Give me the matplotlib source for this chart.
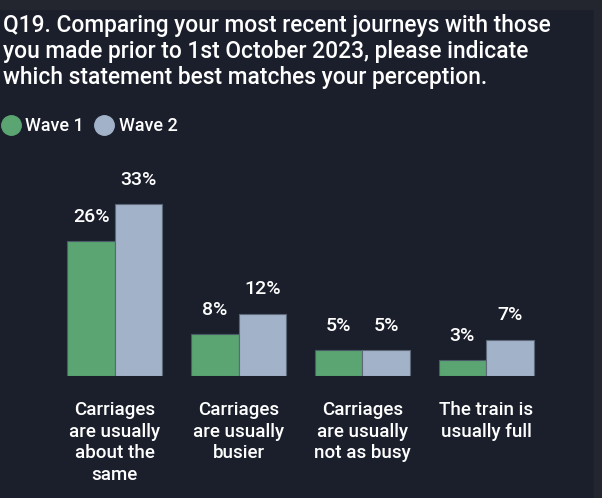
import numpy as np
import matplotlib.pyplot as plt
from matplotlib.lines import Line2D

categories = ['Carriages\nare usually\nabout the\nsame',
              'Carriages\nare usually\nbusier',
              'Carriages\nare usually\nnot as busy',
              'The train is\nusually full']
wave1 = [26, 8, 5, 3]
wave2 = [33, 12, 5, 7]
series_names = ['Wave 1', 'Wave 2']

bg = '#1b1f2c'
green = '#5aa572'
grey = '#a2b2c8'

plt.rcParams['font.family'] = ['Roboto', 'DejaVu Sans']

fig = plt.figure(figsize=(6.02, 4.98), dpi=100, facecolor=bg)
# lighter strips at the top and right edge
fig.patches.append(plt.Rectangle((0, 489/498), 1, 9/498, transform=fig.transFigure,
                                 color='#23262e', zorder=0))
fig.patches.append(plt.Rectangle((594/602, 0), 8/602, 1, transform=fig.transFigure,
                                 color='#23262e', zorder=0))

ax = fig.add_axes([53/602, 122/498, 495/602, 208/498])
ax.set_facecolor(bg)

x = np.arange(len(categories))
w = 0.384
b1 = ax.bar(x - w/2, wave1, w, color=green, edgecolor='#4a5a66', linewidth=0.8)
b2 = ax.bar(x + w/2, wave2, w, color=grey, edgecolor='#5c6878', linewidth=0.8)

for bars, vals in ((b1, wave1), (b2, wave2)):
    for r, v in zip(bars, vals):
        ax.annotate(f'{v}%', (r.get_x() + r.get_width()/2, v), xytext=(0, 11),
                    textcoords='offset points', ha='center', va='bottom',
                    color='white', fontsize=14, fontweight='medium')

ax.set_xlim(-0.5, 3.5)
ax.set_ylim(0, 40)
ax.set_xticks(x)
ax.set_xticklabels(categories, color='white', fontsize=13.5, fontweight='medium',
                   linespacing=1.26, va='top')
ax.tick_params(axis='x', length=0, pad=18)
ax.set_yticks([])
for s in ax.spines.values():
    s.set_visible(False)

fig.text(3/602, 1 - 14/498,
         'Q19. Comparing your most recent journeys with those\n'
         'you made prior to 1st October 2023, please indicate\n'
         'which statement best matches your perception.',
         color='white', fontsize=16.4, fontweight='medium', va='top',
         linespacing=1.17)

handles = [Line2D([], [], marker='o', linestyle='', markersize=14, color=green),
           Line2D([], [], marker='o', linestyle='', markersize=14, color=grey)]
fig.legend(handles, series_names, loc='center left', bbox_to_anchor=(2/602, 1 - 126/498),
           ncol=2, frameon=False, handlelength=1.0, handletextpad=0.3,
           columnspacing=0.6, borderpad=0, borderaxespad=0,
           labelcolor='white', prop={'size': 13, 'weight': 'medium'})

fig.savefig('out.png', dpi=100, facecolor=bg)
